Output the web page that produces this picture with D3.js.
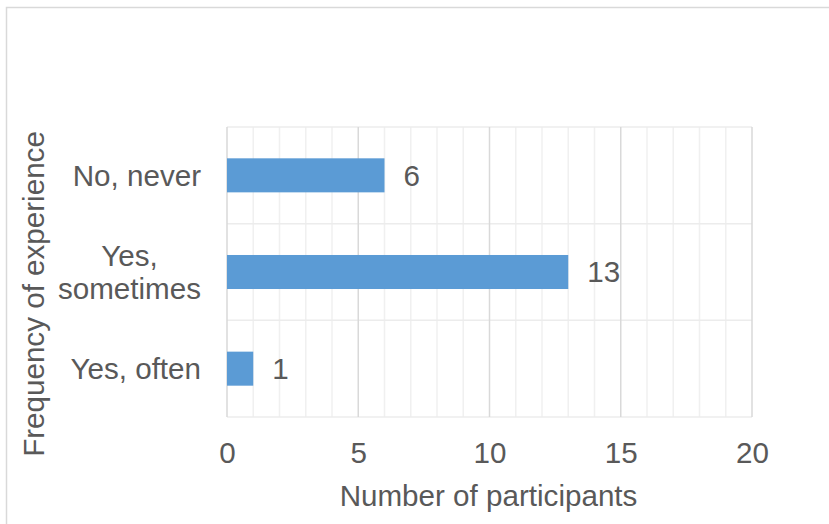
<!DOCTYPE html>
<html>
<head>
<meta charset="utf-8">
<script src="https://cdn.jsdelivr.net/npm/d3@7"></script>
<style>
  html, body { margin: 0; padding: 0; background: #fff; }
  svg { display: block; }
  text { font-family: "Liberation Sans", Arial, sans-serif; fill: #595959; }
</style>
</head>
<body>
<svg id="chart" width="829" height="524"></svg>
<script>
const categories = ["No, never", "Yes,\nsometimes", "Yes, often"];
const values = [6, 13, 1];
const xTicks = [0, 5, 10, 15, 20];
const xMinorTicks = d3.range(0, 21, 1);
const xTitle = "Number of participants";
const yTitle = "Frequency of experience";

const W = 829, H = 524;
const svg = d3.select("#chart");
const fs = 29.6;

// outer border
svg.append("rect")
  .attr("x", 6.5).attr("y", 7.5)
  .attr("width", W + 10).attr("height", H + 10)
  .attr("fill", "none").attr("stroke", "#d9d9d9").attr("stroke-width", 1.5);

const plot = { left: 227, right: 752, top: 127, bottom: 417 };

const x = d3.scaleLinear().domain([0, 20]).range([plot.left, plot.right]);
const y = d3.scaleBand().domain(categories).range([plot.top, plot.bottom])
  .paddingInner(0.648).paddingOuter(0.324);

const g = svg.append("g");

// minor vertical gridlines
g.selectAll("line.minor").data(xMinorTicks.filter(d => d % 5 !== 0)).enter()
  .append("line").attr("class", "minor")
  .attr("x1", d => x(d)).attr("x2", d => x(d))
  .attr("y1", plot.top).attr("y2", plot.bottom)
  .attr("stroke", "#f0f0f0").attr("stroke-width", 1.5);

// horizontal gridlines at category boundaries
const bounds = categories.map(c => y(c) - y.step() * y.paddingInner() / 2);
bounds.push(plot.bottom);
g.selectAll("line.hgrid").data(bounds).enter()
  .append("line").attr("class", "hgrid")
  .attr("x1", plot.left).attr("x2", plot.right)
  .attr("y1", d => d).attr("y2", d => d)
  .attr("stroke", "#ececec").attr("stroke-width", 1.5);

// major vertical gridlines
g.selectAll("line.major").data(xTicks).enter()
  .append("line").attr("class", "major")
  .attr("x1", d => x(d)).attr("x2", d => x(d))
  .attr("y1", plot.top).attr("y2", plot.bottom)
  .attr("stroke", "#d9d9d9").attr("stroke-width", 1.5);

// bars
g.selectAll("rect.bar").data(values).enter()
  .append("rect").attr("class", "bar")
  .attr("x", x(0))
  .attr("y", (d, i) => y(categories[i]))
  .attr("width", d => x(d) - x(0))
  .attr("height", y.bandwidth())
  .attr("fill", "#5b9bd5");

// data labels
g.selectAll("text.val").data(values).enter()
  .append("text").attr("class", "val")
  .attr("x", d => x(d) + 19)
  .attr("y", (d, i) => y(categories[i]) + y.bandwidth() / 2)
  .attr("dy", "0.35em")
  .attr("font-size", fs)
  .text(d => d);

// x axis labels
const xAxis = d3.axisBottom(x).tickValues(xTicks).tickSize(0).tickPadding(25);
const xa = svg.append("g").attr("transform", `translate(0,${plot.bottom})`).call(xAxis);
xa.select(".domain").remove();
xa.selectAll("text").attr("font-size", fs).attr("fill", "#595959")
  .attr("font-family", "Liberation Sans, Arial, sans-serif");

// category labels
const labelRight = 201;
const lineH = 33;
categories.forEach(c => {
  const lines = c.split("\n");
  const t = svg.append("text").attr("font-size", fs).attr("text-anchor", "middle");
  const cy = y(c) + y.bandwidth() / 2;
  const tspans = lines.map((ln, i) => t.append("tspan")
    .attr("y", cy + (i - (lines.length - 1) / 2) * lineH)
    .attr("dy", "0.35em")
    .text(ln));
  const widths = tspans.map(ts => ts.node().getComputedTextLength());
  const maxW = d3.max(widths);
  tspans.forEach(ts => ts.attr("x", labelRight - maxW / 2));
});

// axis titles
svg.append("text")
  .attr("x", (plot.left + plot.right) / 2 - 1)
  .attr("y", 506)
  .attr("text-anchor", "middle")
  .attr("font-size", fs)
  .text(xTitle);

svg.append("text")
  .attr("transform", `translate(44,294) rotate(-90)`)
  .attr("text-anchor", "middle")
  .attr("font-size", fs)
  .text(yTitle);
</script>
</body>
</html>
